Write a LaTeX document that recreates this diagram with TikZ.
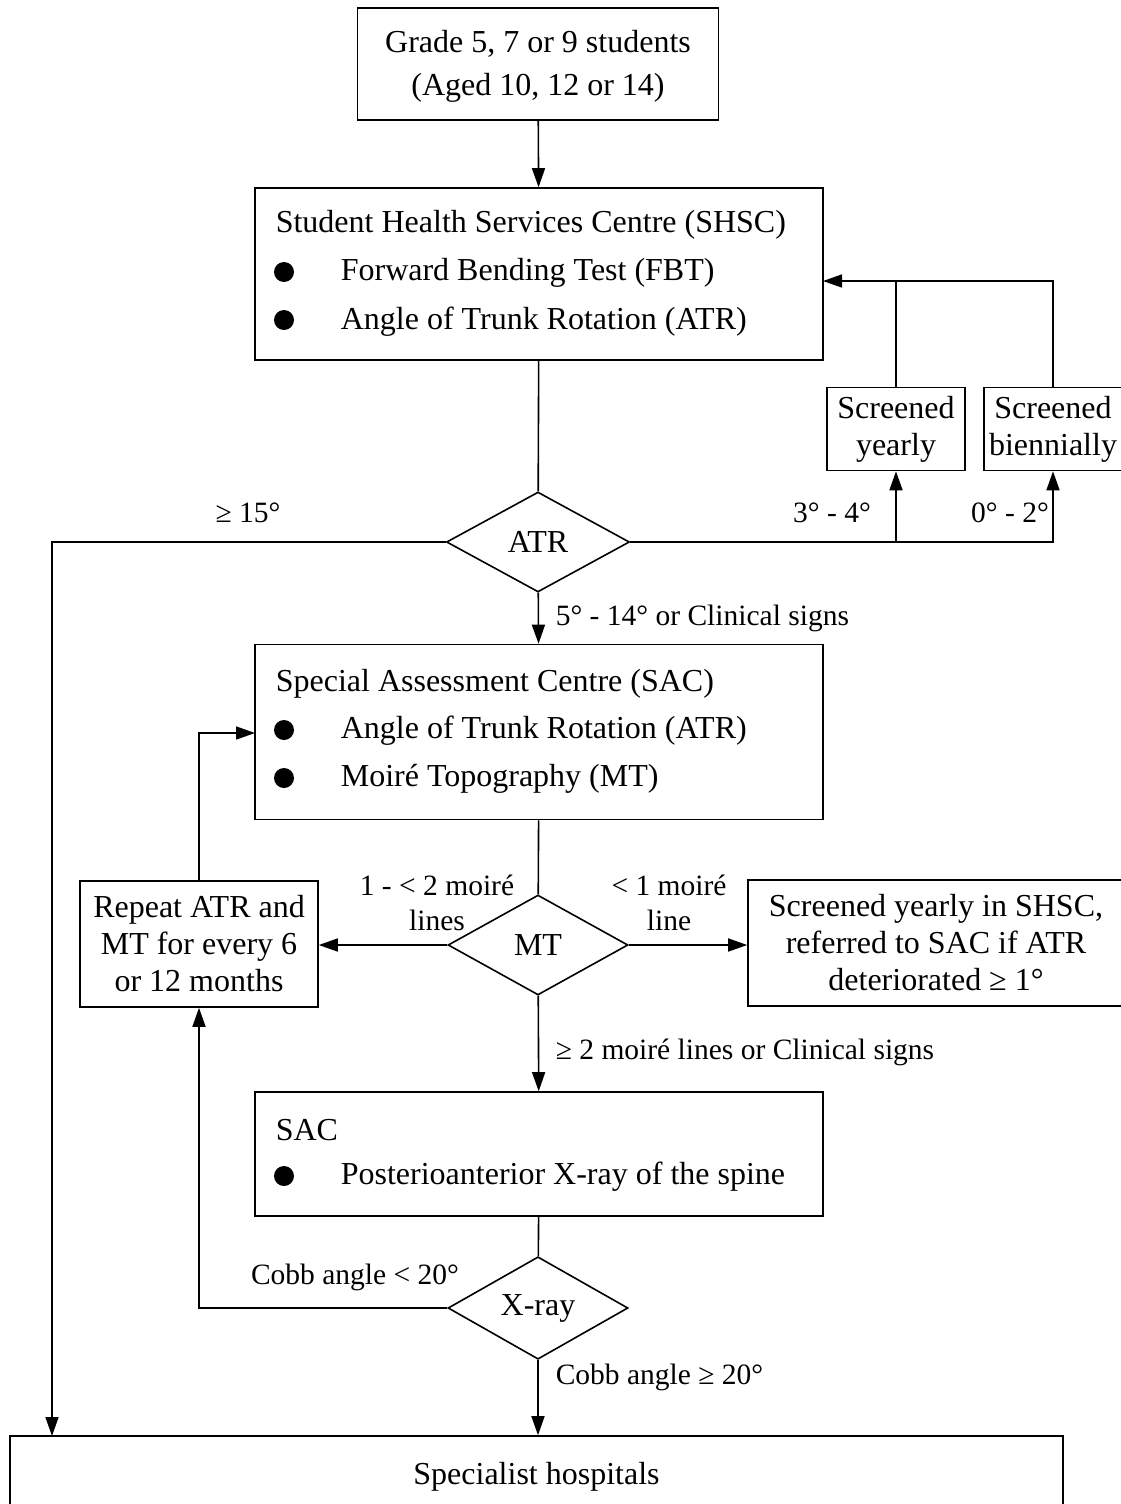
\documentclass[tikz,border=0pt]{standalone}
\usepackage{fontspec}
\setmainfont{Liberation Serif}
\usetikzlibrary{shapes.geometric,arrows.meta}
\tikzset{
  box/.style={draw,line width=1.6pt,inner sep=0pt},
  choice/.style={draw,diamond,line width=1.6pt,inner sep=0pt},
  arr/.style={-{Triangle[length=19pt,width=13pt]}},
  lbl/.style={inner sep=0pt,align=center},
  cond/.style={inner sep=0pt,align=center,font=\fontsize{29.5}{35}\selectfont}
}
\newcommand{\dotb}[1]{\fill (#1) circle (10pt);}
\begin{document}
\begin{tikzpicture}[x=1pt,y=-1pt,line width=1.6pt,font=\fontsize{32}{37}\selectfont]
\useasboundingbox (0,0) rectangle (1121,1504);
\coordinate (fb) at (823,281);
\coordinate (sacL) at (255,733);
\coordinate (hospL) at (52,1436);

% boxes
\node[box,minimum width=361pt,minimum height=112pt] (top) at (538,64) {};
\node[lbl] at (538,44) {Grade 5, 7 or 9 students};
\node[lbl] at (538,88) {(Aged 10, 12 or 14)};

\node[box,minimum width=568pt,minimum height=172pt] (shsc) at (539,274) {};
\node[lbl,anchor=west] at (275,225) {Student Health Services Centre (SHSC)};
\dotb{284,272} \node[lbl,anchor=west] at (340,273) {Forward Bending Test (FBT)};
\dotb{284,320} \node[lbl,anchor=west] at (340,322) {Angle of Trunk Rotation (ATR)};

\node[choice,minimum width=183pt,minimum height=100pt] (atr) at (538,542) {ATR};

\node[box,minimum width=138pt,minimum height=83pt,align=center] (yearly) at (896,429) {Screened\\yearly};
\node[box,minimum width=138pt,minimum height=83pt,align=center] (bien) at (1053,429) {Screened\\biennially};

\node[box,minimum width=568pt,minimum height=175pt] (sac) at (539,732) {};
\node[lbl,anchor=west] at (275,684) {Special Assessment Centre (SAC)};
\dotb{284,730} \node[lbl,anchor=west] at (340,731) {Angle of Trunk Rotation (ATR)};
\dotb{284,778} \node[lbl,anchor=west] at (340,779) {Moir\'e Topography (MT)};

\node[choice,minimum width=180pt,minimum height=100pt] (mt) at (538,945) {MT};

\node[box,minimum width=238pt,minimum height=126pt,align=center] (repeat) at (199,944) {Repeat ATR and\\MT for every 6\\or 12 months};
\node[box,minimum width=376pt,minimum height=126pt,align=center] (yrshsc) at (936,943) {Screened yearly in SHSC,\\referred to SAC if ATR\\deteriorated ≥ 1°};

\node[box,minimum width=568pt,minimum height=124pt] (sac2) at (539,1154) {};
\node[lbl,anchor=west] at (275,1130) {SAC};
\dotb{284,1176} \node[lbl,anchor=west] at (340,1177) {Posterioanterior X-ray of the spine};

\node[choice,minimum width=180pt,minimum height=97pt] (xray) at (538,1308) {X-ray};

\node[box,minimum width=1053pt,minimum height=82pt] (spec) at (536.5,1477) {Specialist hospitals};

% connectors
\draw[arr] (top) -- (shsc);
\draw (shsc) -- (atr);
\draw[arr] (atr.west) -| (hospL);
\draw[arr] (atr.east) -| (bien.south);
\draw[arr] (yearly.south |- atr.east) -- (yearly.south);
\draw[arr] (bien.north) |- (fb);
\draw (yearly.north) -- (yearly.north |- fb);
\draw[arr] (atr) -- (sac);
\draw (sac) -- (mt);
\draw[arr] (mt.west) -- (mt.west -| repeat.east);
\draw[arr] (mt.east) -- (mt.east -| yrshsc.west);
\draw[arr] (repeat.north) |- (sacL);
\draw[arr] (mt) -- (sac2);
\draw (sac2) -- (xray);
\draw[arr] (xray.west) -| (repeat.south);
\draw[arr] (xray.south) -- (xray.south |- spec.north);

% labels
\node[cond] at (248,513) {≥ 15°};
\node[cond] at (832,513) {3° - 4°};
\node[cond] at (1010,513) {0° - 2°};
\node[cond,anchor=west] at (555,618) {5° - 14° or Clinical signs};
\node[cond] at (437,903) {1 - < 2 moir\'e\\lines};
\node[cond] at (669,903) {< 1 moir\'e\\line};
\node[cond,anchor=west] at (555,1052) {≥ 2 moir\'e lines or Clinical signs};
\node[cond] at (355,1277) {Cobb angle < 20°};
\node[cond,anchor=west] at (555,1377) {Cobb angle ≥ 20°};
\end{tikzpicture}
\end{document}
